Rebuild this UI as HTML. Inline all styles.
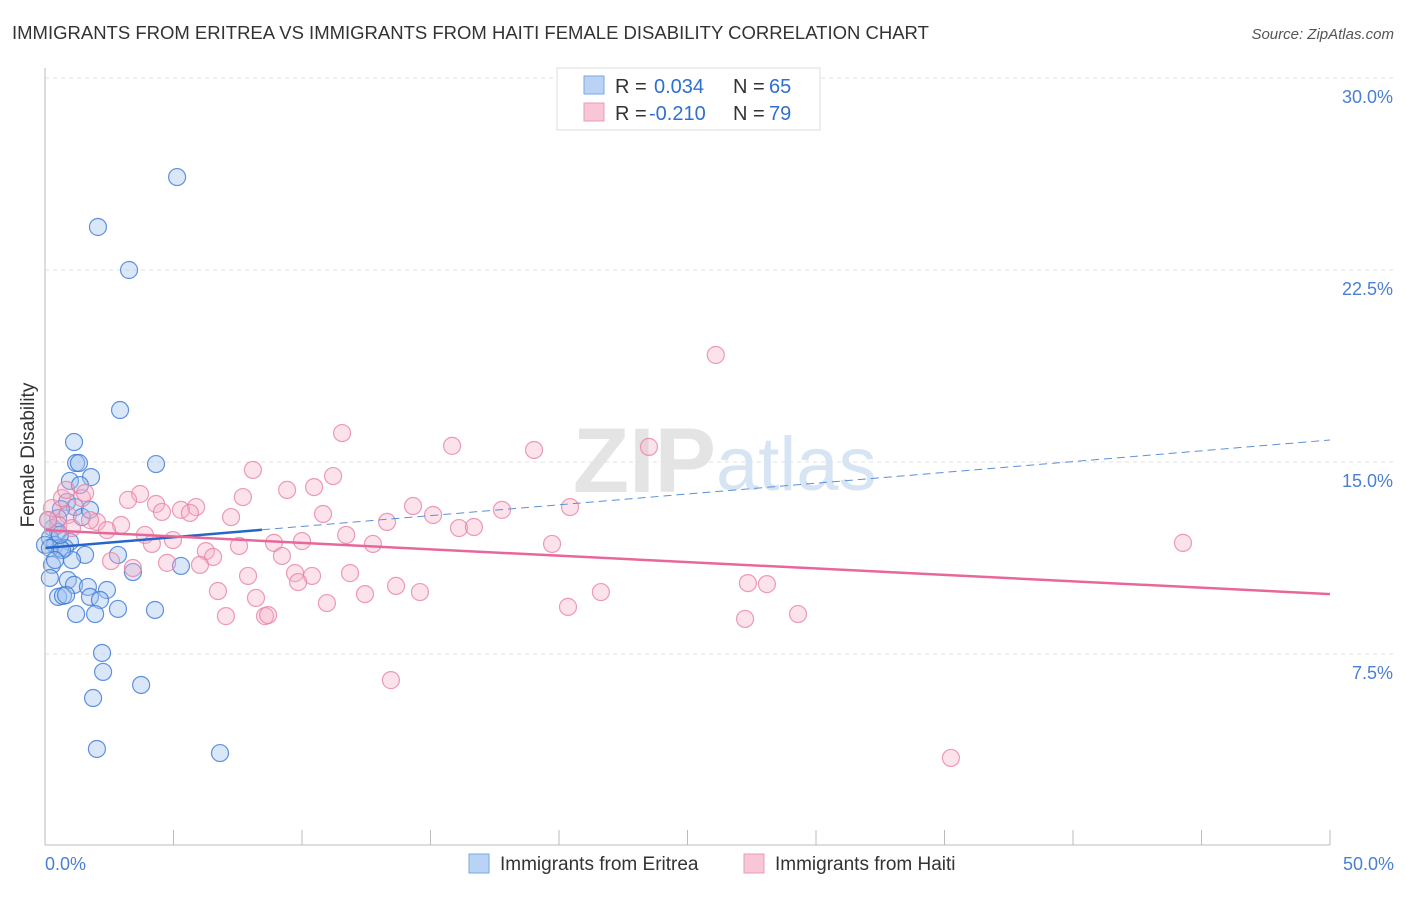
<!DOCTYPE html>
<html><head><meta charset="utf-8"><style>
body{margin:0;background:#fff;font-family:"Liberation Sans",sans-serif;}
svg text{font-family:"Liberation Sans",sans-serif;}
</style></head><body>
<svg id="c" width="1406" height="892" viewBox="0 0 1406 892" xmlns="http://www.w3.org/2000/svg">
<text x="12" y="39" font-size="18.5" fill="#333">IMMIGRANTS FROM ERITREA VS IMMIGRANTS FROM HAITI FEMALE DISABILITY CORRELATION CHART</text>
<text x="1394" y="39" font-size="15" fill="#555" font-style="italic" text-anchor="end">Source: ZipAtlas.com</text>
<text x="716" y="492" font-size="92" fill="#e4e4e4" text-anchor="end" font-family="Liberation Serif" font-weight="bold">ZIP</text>
<text x="716" y="490" font-size="76" fill="#d6e4f4">atlas</text>
<g id="grid"></g><g id="pts"></g><g id="lines"></g>
<line x1="45" y1="68" x2="45" y2="845" stroke="#bbb"/>
<line x1="45" y1="845" x2="1330" y2="845" stroke="#bbb"/>
<text x="34" y="455" font-size="19" fill="#333" transform="rotate(-90 34 455)" text-anchor="middle">Female Disability</text>
<text x="45" y="870" font-size="18" fill="#4a7fd4">0.0%</text>
<text x="1394" y="870" font-size="18" fill="#4a7fd4" text-anchor="end">50.0%</text>
<g>
<rect x="557" y="68" width="263" height="62" fill="#fff" stroke="#ddd"/>
<rect x="584" y="76" width="20" height="18" fill="#b9d3f5" stroke="#7aa7e6"/>
<rect x="584" y="103" width="20" height="18" fill="#f8c6d6" stroke="#eb9ab4"/>
<text x="615" y="93" font-size="20" fill="#333">R =</text>
<text x="654" y="93" font-size="20" fill="#2f6fd0">0.034</text>
<text x="733" y="93" font-size="20" fill="#333">N =</text>
<text x="769" y="93" font-size="20" fill="#2f6fd0">65</text>
<text x="615" y="120" font-size="20" fill="#333">R =</text>
<text x="649" y="120" font-size="20" fill="#2f6fd0">-0.210</text>
<text x="733" y="120" font-size="20" fill="#333">N =</text>
<text x="769" y="120" font-size="20" fill="#2f6fd0">79</text>
</g>
<g>
<rect x="469" y="854" width="20" height="19" fill="#b9d3f5" stroke="#7aa7e6"/>
<text x="500" y="870" font-size="19" fill="#333">Immigrants from Eritrea</text>
<rect x="744" y="854" width="20" height="19" fill="#f8c6d6" stroke="#eb9ab4"/>
<text x="775" y="870" font-size="19" fill="#333">Immigrants from Haiti</text>
</g>
</svg>
<script>
const yTicks=[7.5,15,22.5,30];
const xTickCount=10;
const blueX=[5.14,2.06,3.27,2.92,1.13,1.21,1.32,4.32,1.79,0.97,1.36,0.86,1.17,0.62,1.44,0.31,0.51,0.19,0.97,0.39,0.58,0.78,1.56,1.05,2.84,0.27,5.29,3.42,0.19,0.89,1.13,1.67,2.41,0.51,0.70,1.75,2.14,2.84,4.28,1.21,1.95,2.22,2.26,3.74,1.87,2.02,6.81,0.51,1.75,0.0,0.19,0.66,0.39,0.58,0.12,0.82];
const blueY=[26.13,24.18,22.5,17.03,15.78,14.96,14.96,14.92,14.41,14.26,14.1,13.44,13.24,13.16,12.85,12.42,12.27,12.03,11.88,11.76,11.64,11.64,11.37,11.17,11.37,10.98,10.94,10.7,10.47,10.39,10.2,10.12,10.0,9.73,9.77,9.73,9.61,9.26,9.22,9.06,9.06,7.54,6.8,6.29,5.78,3.79,3.63,12.81,13.13,11.76,11.64,11.56,11.17,12.15,12.73,9.8];
const pinkX=[26.1,11.56,15.84,23.5,19.03,11.21,8.09,10.47,9.42,7.7,3.7,3.23,4.32,5.88,5.29,5.64,14.32,17.78,20.43,15.1,10.82,7.24,4.55,13.31,16.11,16.69,2.96,2.02,2.41,11.72,3.89,4.98,4.16,7.55,10.0,8.91,12.76,19.73,44.28,6.26,9.22,6.54,2.57,4.75,6.03,3.42,9.73,11.87,10.39,7.9,9.85,27.35,28.09,13.66,6.73,12.45,14.59,21.63,8.21,10.97,20.35,7.04,8.56,8.68,29.3,27.24,13.46,35.25,0.27,0.89,0.51,0.12,0.66,1.44,1.56,1.05,1.75,0.82];
const pinkY=[19.18,16.13,15.63,15.59,15.47,14.45,14.69,14.02,13.91,13.63,13.75,13.52,13.36,13.24,13.13,13.01,13.28,13.13,13.24,12.93,12.97,12.85,13.05,12.66,12.42,12.46,12.54,12.66,12.34,12.15,12.15,11.95,11.8,11.72,11.91,11.84,11.8,11.8,11.84,11.52,11.33,11.29,11.13,11.06,10.98,10.86,10.66,10.66,10.55,10.55,10.31,10.27,10.23,10.16,9.96,9.84,9.92,9.92,9.69,9.49,9.34,8.98,8.98,9.02,9.06,8.87,6.48,3.44,13.2,12.93,12.54,12.73,13.59,13.59,13.79,12.42,12.73,13.91];
const blueTrend=[11.64,15.86];const blueSolidEnd=8.44;
const pinkTrend=[12.34,9.84];
const NS='http://www.w3.org/2000/svg';
const X=v=>45+v/50*1285, Y=v=>846-v*25.6;
function mk(t,a,p){const e=document.createElementNS(NS,t);for(const k in a)e.setAttribute(k,a[k]);p.appendChild(e);return e;}
const g=document.getElementById('grid');
yTicks.forEach(t=>{
 const l=mk('line',{x1:45,x2:1393,y1:Y(t),y2:Y(t),stroke:'#e2e2e2','stroke-dasharray':'4,4'},g);
 
 
 const tx=mk('text',{x:1393,y:Y(t)+25,'font-size':18,fill:'#4a7fd4','text-anchor':'end'},g);
 tx.textContent=t.toFixed(1)+'%';
 
 
});
for(let i=0;i<=xTickCount;i++){
 const x=X(i*50/xTickCount);
 const l=mk('line',{x1:x,x2:x,y1:830,y2:845,stroke:'#bbb'},g);
 
 
}
const p=document.getElementById('pts');
blueX.forEach((v,i)=>{
 const c=mk('circle',{cx:X(v),cy:Y(blueY[i]),r:8.5,fill:'rgba(160,196,240,0.4)',stroke:'rgba(60,120,215,0.8)','stroke-width':1.2},p);
 
 
});
pinkX.forEach((v,i)=>{
 const c=mk('circle',{cx:X(v),cy:Y(pinkY[i]),r:8.5,fill:'rgba(245,175,198,0.35)',stroke:'rgba(232,130,165,0.8)','stroke-width':1.2},p);
 
 
});
const L=document.getElementById('lines');
const by=x=>blueTrend[0]+(blueTrend[1]-blueTrend[0])*x/50;
let l1=mk('line',{x1:X(0),y1:Y(by(0)),x2:X(blueSolidEnd),y2:Y(by(blueSolidEnd)),stroke:'#2566c8','stroke-width':2.5},L);


let l2=mk('line',{x1:X(blueSolidEnd),y1:Y(by(blueSolidEnd)),x2:X(50),y2:Y(by(50)),stroke:'#5a8fd8','stroke-width':1,'stroke-dasharray':'8,5'},L);


let l3=mk('line',{x1:X(0),y1:Y(pinkTrend[0]),x2:X(50),y2:Y(pinkTrend[1]),stroke:'#e8679a','stroke-width':2.5},L);


</script>
</body></html>
